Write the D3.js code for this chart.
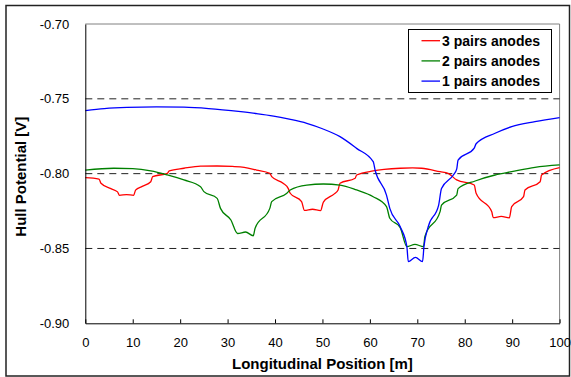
<!DOCTYPE html>
<html>
<head>
<meta charset="utf-8">
<script src="https://cdn.jsdelivr.net/npm/d3@7"></script>
<style>
  html, body { margin: 0; padding: 0; background: #fff; }
  svg { display: block; font-family: "Liberation Sans", Arial, sans-serif; }
</style>
</head>
<body>
<svg id="chart" width="571" height="377"></svg>
<script>
// Hull potential along the ship for three anode arrangements: [position m, potential V]
const series3Pairs = [
  [0,-0.8027],[2.9,-0.8036],[3.3,-0.8064],[5.4,-0.8100],[6.8,-0.8122],[7.2,-0.8145],
  [8.7,-0.8140],[10.2,-0.8145],[10.6,-0.8110],[12,-0.8085],[13.8,-0.8054],[14.2,-0.8020],
  [17.3,-0.7998],[17.7,-0.7982],[20.8,-0.7964],[24.3,-0.7950],[27.8,-0.7949],[31,-0.7952],
  [33.5,-0.7958],[36.1,-0.7976],[38.9,-0.7998],[39.3,-0.8020],[41.7,-0.8064],[42.8,-0.8100],
  [43.2,-0.8131],[45.6,-0.8187],[46.2,-0.8245],[47.9,-0.8238],[49.6,-0.8247],[50.2,-0.8190],
  [52.5,-0.8135],[53.3,-0.8109],[53.7,-0.8064],[56.9,-0.8031],[57.2,-0.8009],[60.7,-0.7982],
  [63,-0.7972],[66.4,-0.7964],[69,-0.7962],[70.9,-0.7964],[74.8,-0.7987],[76.5,-0.7998],
  [78.3,-0.8042],[82.0,-0.8076],[82.4,-0.8131],[85.7,-0.8254],[86,-0.8294],[87.7,-0.8286],
  [89.4,-0.8296],[89.9,-0.8220],[92.4,-0.8154],[92.7,-0.8109],[95.9,-0.8054],[96.2,-0.8009],
  [100,-0.7960]
];
const series2Pairs = [
  [0,-0.7976],[6,-0.7964],[10,-0.7967],[13.8,-0.7982],[17.3,-0.8009],[20.8,-0.8042],
  [24.3,-0.8087],[25,-0.8120],[27.8,-0.8165],[28.5,-0.8232],[30.7,-0.8310],[32.1,-0.8400],
  [33.8,-0.8390],[35.4,-0.8415],[35.8,-0.8365],[38.9,-0.8232],[39.3,-0.8187],[42.5,-0.8131],
  [43.2,-0.8109],[46.7,-0.8076],[50.2,-0.8069],[53.7,-0.8076],[57.2,-0.8109],[60.7,-0.8154],
  [63.5,-0.8220],[64.2,-0.8298],[66.4,-0.8361],[67.8,-0.8488],[69.5,-0.8472],[71.3,-0.8488],
  [71.6,-0.8420],[74.8,-0.8254],[75.1,-0.8210],[78.3,-0.8143],[78.6,-0.8100],[82.2,-0.8049],
  [86.4,-0.8009],[89.9,-0.7987],[94.8,-0.7958],[100,-0.7942]
];
const series1Pair = [
  [0,-0.7579],[4,-0.7565],[8.8,-0.7557],[15,-0.7554],[20.8,-0.7556],[26,-0.7565],
  [32.8,-0.7586],[36,-0.7598],[39.7,-0.7615],[43,-0.7636],[46.7,-0.7664],[50,-0.7700],
  [53.7,-0.7753],[57.2,-0.7831],[60.7,-0.7920],[61.1,-0.7976],[63.5,-0.8143],[64.2,-0.8232],
  [66.4,-0.8355],[67.8,-0.8488],[68.1,-0.8588],[69.6,-0.8560],[71.1,-0.8588],[71.4,-0.8488],
  [72.3,-0.8355],[74.5,-0.8210],[75.1,-0.8100],[77.6,-0.8009],[78.3,-0.7970],[78.6,-0.7910],
  [82.0,-0.7830],[82.4,-0.7800],[86.4,-0.7730],[89.9,-0.7686],[94.8,-0.7653],[100,-0.7626]
];

const seriesNames = ["3 pairs anodes", "2 pairs anodes", "1 pairs anodes"];
const seriesColors = ["#ff0000", "#008000", "#0000ff"];
const xTicks = [0, 10, 20, 30, 40, 50, 60, 70, 80, 90, 100];
const yTicks = [-0.90, -0.85, -0.80, -0.75, -0.70];
const gridValues = [-0.85, -0.80, -0.75];

const svg = d3.select("#chart");
const plot = { left: 85.3, right: 559.6, top: 24, bottom: 323.3 };

const x = d3.scaleLinear().domain([0, 100]).range([plot.left, plot.right]);
const y = d3.scaleLinear().domain([-0.90, -0.70]).range([plot.bottom, plot.top]);

// outer chart frame
svg.append("rect")
  .attr("x", 6).attr("y", 5.5).attr("width", 563.5).attr("height", 370.5)
  .attr("fill", "#fff").attr("stroke", "#222").attr("stroke-width", 1.5);

// plot-area border (top and right)
svg.append("path")
  .attr("d", `M${plot.left},${y(-0.70)}H${x(100)}V${plot.bottom}`)
  .attr("fill", "none").attr("stroke", "#808080").attr("stroke-width", 1);

// dashed gridlines
svg.append("g").selectAll("line").data(gridValues).join("line")
  .attr("x1", plot.left).attr("x2", x(100))
  .attr("y1", d => y(d)).attr("y2", d => y(d))
  .attr("stroke", "#222").attr("stroke-width", 1)
  .attr("stroke-dasharray", "7,5");

// series lines, smoothed without overshoot
const line = d3.line().curve(d3.curveMonotoneX).x(d => x(d[0])).y(d => y(d[1]));
[series3Pairs, series2Pairs, series1Pair].forEach((data, i) => {
  svg.append("path").datum(data)
    .attr("d", line)
    .attr("fill", "none")
    .attr("stroke", seriesColors[i])
    .attr("stroke-width", 1.3)
    .attr("stroke-linejoin", "round");
});

// x axis with inward ticks
const xAxis = svg.append("g")
  .attr("transform", `translate(0,${plot.bottom})`)
  .call(d3.axisBottom(x).tickValues(xTicks).tickSizeInner(-4).tickSizeOuter(0).tickPadding(14));
xAxis.select(".domain").attr("stroke", "#000");
xAxis.selectAll(".tick line").attr("stroke", "#000");
xAxis.selectAll("text").attr("font-size", 13).attr("font-family", "Liberation Sans, Arial, sans-serif").attr("fill", "#000");

// y axis, labels only
const yAxis = svg.append("g")
  .attr("transform", `translate(${plot.left},0)`)
  .call(d3.axisLeft(y).tickValues(yTicks).tickFormat(d => d.toFixed(2)).tickSize(0).tickPadding(16));
yAxis.select(".domain").attr("stroke", "#000");
yAxis.selectAll("text").attr("font-size", 13).attr("font-family", "Liberation Sans, Arial, sans-serif").attr("fill", "#000");

// axis titles
svg.append("text")
  .attr("x", (plot.left + plot.right) / 2).attr("y", 369)
  .attr("text-anchor", "middle")
  .attr("font-size", 15).attr("font-weight", "bold")
  .text("Longitudinal Position [m]");

svg.append("text")
  .attr("transform", `translate(26,${(plot.top + plot.bottom) / 2 + 3}) rotate(-90)`)
  .attr("text-anchor", "middle")
  .attr("font-size", 15).attr("font-weight", "bold")
  .text("Hull Potential [V]");

// legend
const legend = svg.append("g");
legend.append("rect")
  .attr("x", 408.5).attr("y", 29.5).attr("width", 143).attr("height", 63)
  .attr("fill", "#fff").attr("stroke", "#000").attr("stroke-width", 1);
seriesNames.forEach((name, i) => {
  const cy = 40.7 + i * 20.2;
  legend.append("line")
    .attr("x1", 421.5).attr("x2", 440).attr("y1", cy).attr("y2", cy)
    .attr("stroke", seriesColors[i]).attr("stroke-width", 1.3);
  legend.append("text")
    .attr("x", 442).attr("y", cy).attr("dy", "0.35em")
    .attr("font-size", 14).attr("font-weight", "bold")
    .text(name);
});
</script>
</body>
</html>
